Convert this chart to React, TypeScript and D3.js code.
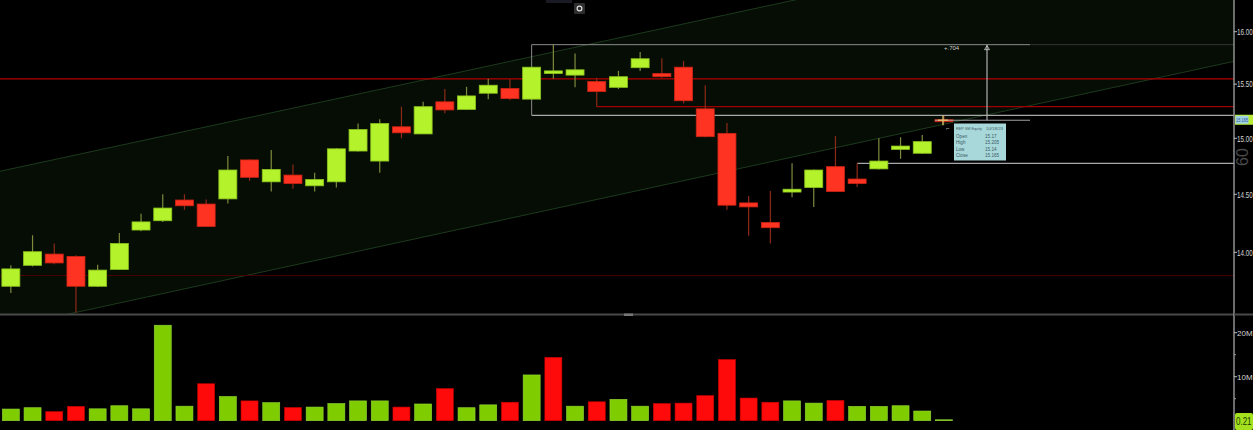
import React from 'react';
import * as d3 from 'd3';

// ---- Data (REP SM Equity, daily) ----
const dates = [
  '08/18/23', '08/21/23', '08/22/23', '08/23/23', '08/24/23', '08/25/23', '08/28/23', '08/29/23', '08/30/23', '08/31/23',
  '09/01/23', '09/04/23', '09/05/23', '09/06/23', '09/07/23', '09/08/23', '09/11/23', '09/12/23', '09/13/23', '09/14/23',
  '09/15/23', '09/18/23', '09/19/23', '09/20/23', '09/21/23', '09/22/23', '09/25/23', '09/26/23', '09/27/23', '09/28/23',
  '09/29/23', '10/02/23', '10/03/23', '10/04/23', '10/05/23', '10/06/23', '10/09/23', '10/10/23', '10/11/23', '10/12/23',
  '10/13/23', '10/16/23', '10/17/23', '10/18/23',
];
const opens = [13.715, 13.89, 13.985, 13.965, 13.715, 13.855, 14.19, 14.27, 14.45, 14.415, 14.46, 14.805, 14.61, 14.67, 14.575, 14.61, 14.885, 14.795, 15.105, 15.04, 15.335, 15.265, 15.415, 15.46, 15.36, 15.6, 15.585, 15.525, 15.47, 15.655, 15.6, 15.66, 15.27, 15.045, 14.425, 14.255, 14.52, 14.56, 14.745, 14.635, 14.725, 14.9, 14.865, 15.17];
const highs = [13.89, 14.145, 14.075, 13.975, 13.895, 14.165, 14.33, 14.5, 14.5, 14.455, 14.84, 14.81, 14.895, 14.765, 14.69, 14.91, 15.135, 15.175, 15.29, 15.335, 15.455, 15.475, 15.55, 15.545, 15.665, 15.88, 15.79, 15.56, 15.625, 15.805, 15.745, 15.72, 15.49, 15.14, 14.485, 14.53, 14.775, 14.72, 15.02, 14.775, 15.0, 15.01, 15.03, 15.205];
const lows = [13.66, 13.88, 13.9, 13.5, 13.71, 13.85, 14.18, 14.26, 14.365, 14.215, 14.42, 14.62, 14.525, 14.55, 14.525, 14.56, 14.88, 14.69, 15.0, 15.04, 15.23, 15.26, 15.36, 15.35, 15.355, 15.55, 15.47, 15.29, 15.455, 15.625, 15.56, 15.32, 15.01, 14.365, 14.14, 14.075, 14.475, 14.39, 14.52, 14.565, 14.72, 14.815, 14.86, 15.14];
const closes = [13.86, 14.005, 13.91, 13.715, 13.85, 14.075, 14.26, 14.38, 14.4, 14.22, 14.715, 14.65, 14.72, 14.595, 14.63, 14.905, 15.08, 15.135, 15.05, 15.29, 15.26, 15.39, 15.49, 15.365, 15.66, 15.625, 15.635, 15.43, 15.57, 15.74, 15.57, 15.345, 15.015, 14.405, 14.39, 14.21, 14.545, 14.715, 14.525, 14.595, 14.795, 14.93, 14.97, 15.165];
const volumesM = [2.65, 2.95, 2.05, 3.25, 2.7, 3.4, 2.7, 21.7, 3.3, 8.4, 5.5, 4.5, 4.1, 3.0, 3.1, 3.9, 4.5, 4.5, 3.1, 3.8, 7.3, 2.95, 3.6, 4.2, 10.4, 14.4, 3.3, 4.3, 4.85, 3.3, 3.9, 4.0, 5.7, 13.9, 5.15, 4.2, 4.5, 4.0, 4.6, 3.25, 3.25, 3.4, 2.2, 0.21];

const priceTicks = [14, 14.5, 15, 15.5, 16];
const volumeTicks = [10, 20];
const volumeMinorTicks = [5, 15];

// annotation levels (price space)
const channelLower = [{ i: 3, p: 13.5 }, { i: 40, p: 15.0 }];
const channelUpper = [{ i: 3, p: 14.85 }, { i: 40, p: 16.49 }];
const redLevelFull = 15.55;
const redLevelRay = { i: 27, p: 15.29 };
const darkRedLevel = 13.805;
const boxTop = 15.875;
const boxBottom = 15.21;
const boxStart = 24;
const grayRay = { i: 39, p: 14.775 };
const lastPrice = 15.165;
const lastVolume = '0.21';
const tooltipTitle = 'REP SM Equity';
const tooltipDate = '10/18/23';
const tooltipRows = [['Open', '15.17'], ['High', '15.205'], ['Low', '15.14'], ['Close', '15.165']];

export default function App() {
  const W = 1253, H = 430;
  const axisX = 1234;
  const panelBottom = 314.5;

  const x = d3.scaleBand<string>().domain(dates).range([0, 21.7 * dates.length]).padding(0);
  const cx = (i: number) => (x(dates[i]) as number) + x.bandwidth() / 2;
  const y = d3.scaleLog().domain([14, 16]).range([252.3, 31.7]);
  const yv = d3.scaleLinear().domain([0, 20]).range([420.7, 332.7]);

  const bodyW = 18;
  const volW = 17;

  const lineThrough = (a: { i: number; p: number }, b: { i: number; p: number }) => {
    const x1 = cx(a.i), y1 = y(a.p), x2 = cx(b.i), y2 = y(b.p);
    const s = (y2 - y1) / (x2 - x1);
    return { at: (xx: number) => y1 + s * (xx - x1) };
  };
  const lo = lineThrough(channelLower[0], channelLower[1]);
  const up = lineThrough(channelUpper[0], channelUpper[1]);
  const channelPoly = [
    [0, up.at(0)], [axisX, up.at(axisX)], [axisX, lo.at(axisX)], [0, lo.at(0)],
  ].map((p) => p.join(',')).join(' ');

  const green = '#b4f22c', greenEdge = '#8cc21e', greenWick = '#7f8a3c';
  const red = '#ff3322', redEdge = '#cc2414', redWick = '#8e2a18';
  const volGreen = '#7fcc00', volRed = '#ff0a0a';

  const xTool = 987;
  const yLast = y(lastPrice);

  return (
    <svg width={W} height={H} style={{ position: 'absolute', left: 0, top: 0, display: 'block', background: '#000' }}
      fontFamily="'Liberation Sans', Arial, sans-serif">
      <rect x={0} y={0} width={W} height={H} fill="#000" />
      <defs>
        <clipPath id="pricePanel"><rect x={0} y={0} width={axisX} height={panelBottom} /></clipPath>
      </defs>

      <g clipPath="url(#pricePanel)">
        {/* channel */}
        <polygon points={channelPoly} fill="#050d05" />
        <line x1={0} y1={up.at(0)} x2={axisX} y2={up.at(axisX)} stroke="#1d3a1d" strokeWidth={1} />
        <line x1={0} y1={lo.at(0)} x2={axisX} y2={lo.at(axisX)} stroke="#1d3a1d" strokeWidth={1} />

        {/* horizontal levels */}
        <line x1={0} x2={axisX} y1={y(redLevelFull)} y2={y(redLevelFull)} stroke="#b30000" strokeWidth={1.2} />
        <line x1={cx(redLevelRay.i)} x2={axisX} y1={y(redLevelRay.p)} y2={y(redLevelRay.p)} stroke="#a00000" strokeWidth={1.2} />
        <line x1={0} x2={axisX} y1={y(darkRedLevel)} y2={y(darkRedLevel)} stroke="#4a0000" strokeWidth={1} />

        {/* box */}
        <line x1={cx(boxStart)} x2={1030} y1={y(boxTop)} y2={y(boxTop)} stroke="#8a8a8a" strokeWidth={1} />
        <line x1={1030} x2={axisX} y1={y(boxTop)} y2={y(boxTop)} stroke="#333" strokeWidth={1} />
        <line x1={cx(boxStart)} x2={axisX} y1={y(boxBottom)} y2={y(boxBottom)} stroke="#a8a8a8" strokeWidth={1.2} />
        <line x1={cx(boxStart)} x2={cx(boxStart)} y1={y(boxTop)} y2={y(boxBottom)} stroke="#8a8a8a" strokeWidth={1} />
        <line x1={cx(grayRay.i)} x2={axisX} y1={y(grayRay.p)} y2={y(grayRay.p)} stroke="#a8a8a8" strokeWidth={1.2} />

        {/* candles */}
        {dates.map((d, i) => {
          const up_ = closes[i] >= opens[i];
          const c = cx(i);
          const top = y(Math.max(opens[i], closes[i]));
          const bot = y(Math.min(opens[i], closes[i]));
          return (
            <g key={d}>
              <line x1={c} x2={c} y1={y(highs[i])} y2={y(lows[i])} stroke={up_ ? greenWick : redWick} strokeWidth={1.2} />
              <rect x={c - bodyW / 2} y={top} width={bodyW} height={Math.max(2, bot - top)}
                fill={up_ ? green : red} stroke={up_ ? greenEdge : redEdge} strokeWidth={0.8} />
            </g>
          );
        })}

        {/* measurement tool */}
        <line x1={xTool} x2={xTool} y1={y(boxTop)} y2={yLast} stroke="#b0b0b0" strokeWidth={1.2} />
        <path d={`M${xTool - 2.5},${y(boxTop) + 5} L${xTool},${y(boxTop) + 1} L${xTool + 2.5},${y(boxTop) + 5} Z`} fill="none" stroke="#cfcfcf" strokeWidth={0.8} />
        <text x={944} y={y(boxTop) + 5} fontSize={6} fill="#cfcfcf">+.704</text>
        <line x1={935} x2={1030} y1={yLast} y2={yLast} stroke="#a0a0a0" strokeWidth={1} />
        <line x1={938} x2={948} y1={yLast} y2={yLast} stroke="#d8c070" strokeWidth={1.4} />
        <line x1={943} x2={943} y1={yLast - 5} y2={yLast + 5} stroke="#d8c070" strokeWidth={1.4} />
        <text x={946} y={yLast + 10} fontSize={6} fill="#aaa">⌐</text>

        {/* tooltip */}
        <rect x={954} y={123.5} width={52} height={37} fill="#a9d8da" />
        <text x={956} y={130} fontSize={4.4} fill="#3a5a66" textLength={26} lengthAdjust="spacingAndGlyphs">{tooltipTitle}</text>
        <text x={986} y={130} fontSize={4.4} fill="#3a5a66" textLength={17} lengthAdjust="spacingAndGlyphs">{tooltipDate}</text>
        {tooltipRows.map((r, k) => (
          <g key={r[0]}>
            <text x={956} y={137.5 + k * 6.6} fontSize={4.6} fill="#3a5a66">{r[0]}</text>
            <text x={985} y={137.5 + k * 6.6} fontSize={4.6} fill="#3a5a66">{r[1]}</text>
          </g>
        ))}
      </g>

      {/* panel separator */}
      <line x1={0} x2={axisX} y1={panelBottom} y2={panelBottom} stroke="#4a4a4a" strokeWidth={2} />
      <rect x={624} y={313.5} width={9} height={2.5} fill="#777" />

      {/* toolbar glyphs */}
      <rect x={546} y={0} width={26} height={3} fill="#1a1a24" />
      <rect x={574} y={3} width={11} height={11} rx={1} fill="#2e2e2e" />
      <circle cx={579.5} cy={8.5} r={2.4} fill="none" stroke="#ddd" strokeWidth={1.2} />

      {/* volume */}
      {dates.map((d, i) => {
        const upv = i === 0 ? true : closes[i] >= closes[i - 1];
        const c = cx(i);
        const top = yv(volumesM[i]);
        const h = yv(0) - top;
        return (
          <rect key={'v' + d} x={c - volW / 2} y={top} width={volW} height={Math.max(0.8, h)}
            fill={upv ? volGreen : volRed} stroke={upv ? '#94d83a' : '#c80000'} strokeWidth={0.6} />
        );
      })}

      {/* right axis */}
      <line x1={axisX} x2={axisX} y1={0} y2={H} stroke="#9a9a9a" strokeWidth={1.4} />
      {priceTicks.map((t) => (
        <g key={'pt' + t}>
          <line x1={axisX} x2={axisX + 3} y1={y(t)} y2={y(t)} stroke="#bbb" />
          <g transform={`translate(${axisX + 3},${y(t) + 3.3}) scale(0.68,1)`}>
            <text x={0} y={0} fontSize={9.2} fill="#d4d4d4">{t.toFixed(2)}</text>
          </g>
        </g>
      ))}
      {volumeTicks.map((t) => (
        <g key={'vt' + t}>
          <line x1={axisX} x2={axisX + 3} y1={yv(t)} y2={yv(t)} stroke="#bbb" />
          <text x={axisX + 3} y={yv(t) + 3} fontSize={8} fill="#d4d4d4">{t}M</text>
        </g>
      ))}
      {volumeMinorTicks.map((t) => (
        <line key={'vm' + t} x1={axisX} x2={axisX + 2} y1={yv(t)} y2={yv(t)} stroke="#999" />
      ))}
      <line x1={axisX} x2={W} y1={panelBottom} y2={panelBottom} stroke="#4a4a4a" strokeWidth={2} />

      {/* last price / last volume tags */}
      <rect x={axisX + 1} y={yLast - 5.5} width={W - axisX - 1} height={10} fill="#b8ec34" />
      <rect x={axisX + 1.5} y={yLast - 4.5} width={13} height={8} fill="#9fd2e0" />
      <g transform={`translate(${axisX + 2},${yLast + 2}) scale(0.72,1)`}>
        <text x={0} y={0} fontSize={5.5} fill="#2a50a0">{lastPrice.toFixed(3)}</text>
      </g>
      <text x={1248} y={166} fontSize={16} fill="#4a4a4a" transform="rotate(-90 1248 166)">60</text>
      <rect x={axisX + 1} y={413} width={W - axisX - 1} height={17} rx={2} fill="#a4e01e" />
      <g transform={`translate(${axisX + 2},425) scale(0.8,1)`}>
        <text x={0} y={0} fontSize={10} fill="#1a3a00">{lastVolume}</text>
      </g>
    </svg>
  );
}
